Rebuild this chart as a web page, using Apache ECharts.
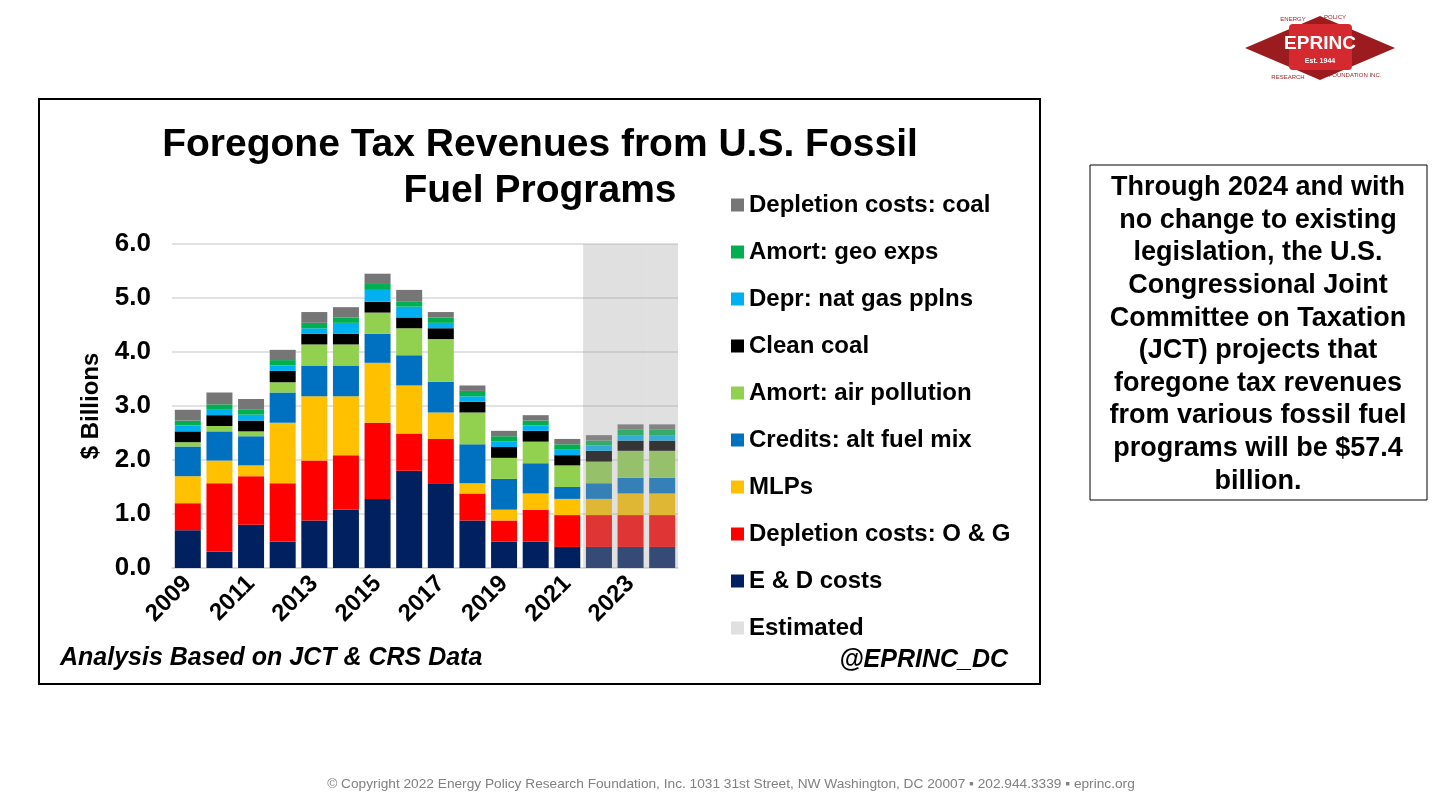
<!DOCTYPE html>
<html>
<head>
<meta charset="utf-8">
<script src="https://cdn.jsdelivr.net/npm/echarts@6/dist/echarts.min.js"></script>
<style>
html,body{margin:0;padding:0;background:#fff;}
#main{width:1442px;height:805px;}
</style>
</head>
<body>
<div id="main"></div>
<script>
const years = ['2009','2010','2011','2012','2013','2014','2015','2016','2017','2018','2019','2020','2021','2022','2023','2024'];
const edCosts      = [0.70,0.30,0.80,0.49,0.88,1.08,1.28,1.80,1.57,0.88,0.49,0.49,0.39,0.39,0.39,0.39];
const depletionOG  = [0.50,1.27,0.90,1.08,1.11,1.01,1.41,0.69,0.82,0.50,0.39,0.59,0.59,0.59,0.59,0.59];
const mlps         = [0.50,0.42,0.20,1.12,1.19,1.09,1.11,0.89,0.49,0.19,0.20,0.30,0.30,0.30,0.40,0.40];
const altFuelMix   = [0.55,0.54,0.54,0.56,0.57,0.57,0.54,0.56,0.57,0.72,0.57,0.56,0.22,0.29,0.29,0.29];
const airPollution = [0.08,0.10,0.09,0.19,0.39,0.39,0.39,0.50,0.79,0.59,0.39,0.40,0.40,0.40,0.50,0.50];
const cleanCoal    = [0.20,0.20,0.20,0.21,0.20,0.20,0.20,0.20,0.20,0.20,0.20,0.20,0.19,0.20,0.19,0.19];
const natGasPplns  = [0.11,0.10,0.11,0.10,0.10,0.20,0.22,0.20,0.10,0.10,0.10,0.10,0.10,0.10,0.10,0.10];
const geoExps      = [0.09,0.10,0.10,0.10,0.10,0.10,0.11,0.10,0.10,0.10,0.10,0.09,0.10,0.09,0.10,0.10];
const depletionCoal= [0.20,0.22,0.19,0.19,0.20,0.19,0.19,0.21,0.10,0.10,0.10,0.10,0.10,0.10,0.10,0.10];
const estimated    = ['-','-','-','-','-','-','-','-','-','-','-','-','-',6,6,6];
const yTicks = [0,1,2,3,4,5,6];

const FONT = 'Liberation Sans, Arial, sans-serif';
const chart = echarts.init(document.getElementById('main'));

const stackDefs = [
  ['E & D costs', edCosts, '#002060'],
  ['Depletion costs: O & G', depletionOG, '#ff0000'],
  ['MLPs', mlps, '#ffc000'],
  ['Credits: alt fuel mix', altFuelMix, '#0070c0'],
  ['Amort: air pollution', airPollution, '#92d050'],
  ['Clean coal', cleanCoal, '#000000'],
  ['Depr: nat gas pplns', natGasPplns, '#00b0f0'],
  ['Amort: geo exps', geoExps, '#00b050'],
  ['Depletion costs: coal', depletionCoal, '#767676']
];

const series = stackDefs.map(d => ({
  name: d[0], type: 'bar', stack: 'total', data: d[1],
  xAxisIndex: 0, yAxisIndex: 0, barWidth: 26, z: 3,
  itemStyle: { color: d[2] }
}));
series.push({
  name: 'Estimated', type: 'bar', data: estimated,
  xAxisIndex: 1, yAxisIndex: 0, barWidth: '100%', z: 6,
  itemStyle: { color: 'rgba(160,160,160,0.33)' }
});

chart.setOption({
  animation: false,
  backgroundColor: '#fff',
  grid: { left: 172, right: 764, top: 244, bottom: 237, containLabel: false },
  legend: {
    orient: 'vertical', left: 726, top: 188,
    itemWidth: 13, itemHeight: 13, itemGap: 23, icon: 'rect',
    textStyle: { fontFamily: FONT, fontSize: 24, fontWeight: 'bold', color: '#000', lineHeight: 24 },
    data: ['Depletion costs: coal','Amort: geo exps','Depr: nat gas pplns','Clean coal','Amort: air pollution','Credits: alt fuel mix','MLPs','Depletion costs: O & G','E & D costs','Estimated']
  },
  xAxis: [{
    type: 'category', data: years,
    axisLine: { lineStyle: { color: '#d9d9d9', width: 1.5 } },
    axisTick: { show: false },
    axisLabel: { interval: 1, rotate: 45, margin: 12, fontFamily: FONT, fontSize: 24, fontWeight: 'bold', color: '#000' }
  }, {
    type: 'category', data: years, show: false
  }],
  yAxis: {
    type: 'value', min: yTicks[0], max: yTicks[yTicks.length-1], interval: 1,
    name: '$ Billions', nameLocation: 'middle', nameRotate: 90, nameGap: 69,
    nameTextStyle: { fontFamily: FONT, fontSize: 24, fontWeight: 'bold', color: '#000' },
    axisLine: { show: false }, axisTick: { show: false },
    axisLabel: { margin: 21, fontFamily: FONT, fontSize: 26, fontWeight: 'bold', color: '#000', formatter: v => v.toFixed(1) },
    splitLine: { lineStyle: { color: '#d9d9d9', width: 1.5 } }
  },
  series: series,
  graphic: [
    { type: 'rect', shape: { x: 39, y: 99, width: 1001, height: 585 }, style: { fill: 'none', stroke: '#000', lineWidth: 2 }, z: 0 },
    { type: 'text', x: 540, y: 122, style: { text: 'Foregone Tax Revenues from U.S. Fossil\nFuel Programs', align: 'center', verticalAlign: 'top', font: 'bold 39px ' + FONT, lineHeight: 46, fill: '#000' } },
    { type: 'text', x: 60, y: 658, style: { text: 'Analysis Based on JCT & CRS Data', align: 'left', verticalAlign: 'middle', font: 'italic bold 25px ' + FONT, fill: '#000' } },
    { type: 'text', x: 1008, y: 660, style: { text: '@EPRINC_DC', align: 'right', verticalAlign: 'middle', font: 'italic bold 25px ' + FONT, fill: '#000' } },
    { type: 'rect', shape: { x: 1090, y: 165, width: 337, height: 335 }, style: { fill: 'none', stroke: '#000', lineWidth: 1 } },
    { type: 'text', x: 1258, y: 171.5, style: { text: 'Through 2024 and with\nno change to existing\nlegislation, the U.S.\nCongressional Joint\nCommittee on Taxation\n(JCT) projects that\nforegone tax revenues\nfrom various fossil fuel\nprograms will be $57.4\nbillion.', align: 'center', verticalAlign: 'top', font: 'bold 27px ' + FONT, lineHeight: 32.6, fill: '#000' } },
    { type: 'text', x: 731, y: 784, style: { text: '\u00a9 Copyright 2022 Energy Policy Research Foundation, Inc. 1031 31st Street, NW Washington, DC 20007 \u25aa 202.944.3339 \u25aa eprinc.org', align: 'center', verticalAlign: 'middle', font: '13.7px ' + FONT, fill: '#808080' } },
    // logo
    { type: 'polygon', shape: { points: [[1245,48],[1320,16],[1395,48],[1320,80]] }, style: { fill: '#9b1b1e' } },
    { type: 'rect', shape: { x: 1289, y: 24, width: 63, height: 46, r: 4 }, style: { fill: '#d42a2f' } },
    { type: 'text', x: 1320, y: 44, style: { text: 'EPRINC', align: 'center', verticalAlign: 'middle', font: 'bold 19px ' + FONT, fill: '#fff' } },
    { type: 'text', x: 1320, y: 61, style: { text: 'Est. 1944', align: 'center', verticalAlign: 'middle', font: 'bold 7px ' + FONT, fill: '#fff' } },
    { type: 'text', x: 1293, y: 19, style: { text: 'ENERGY', align: 'center', verticalAlign: 'middle', font: '6px ' + FONT, fill: '#9b1b1e' } },
    { type: 'text', x: 1335, y: 17, style: { text: 'POLICY', align: 'center', verticalAlign: 'middle', font: '6px ' + FONT, fill: '#9b1b1e' } },
    { type: 'text', x: 1288, y: 77, style: { text: 'RESEARCH', align: 'center', verticalAlign: 'middle', font: '6px ' + FONT, fill: '#9b1b1e' } },
    { type: 'text', x: 1355, y: 75, style: { text: 'FOUNDATION INC.', align: 'center', verticalAlign: 'middle', font: '6px ' + FONT, fill: '#9b1b1e' } }
  ]
});
</script>
</body>
</html>
